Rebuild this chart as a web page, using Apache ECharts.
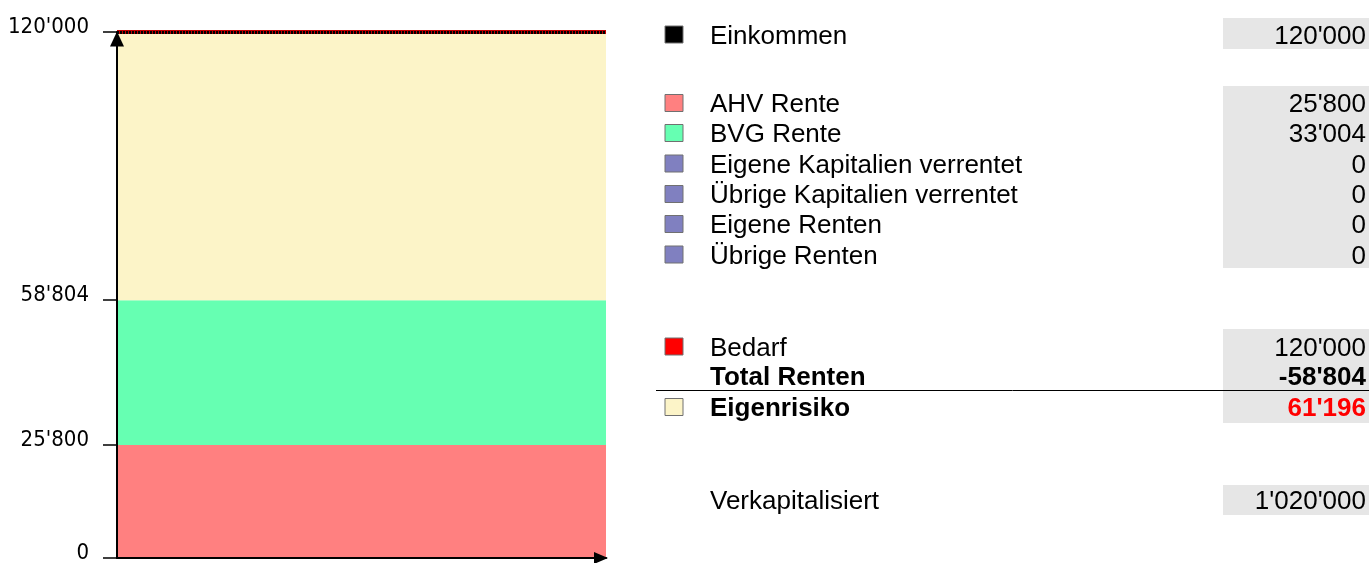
<!DOCTYPE html>
<html>
<head>
<meta charset="utf-8">
<script src="https://cdn.jsdelivr.net/npm/echarts@6/dist/echarts.min.js"></script>
<style>
  html, body { margin: 0; padding: 0; background: #fff; }
  #main { width: 1369px; height: 563px; }
</style>
</head>
<body>
<div id="main"></div>
<script>
// values
const einkommen = 120000;
const bedarf = 120000;
const stackNames = ['AHV Rente', 'BVG Rente', 'Eigene Kapitalien verrentet', 'Übrige Kapitalien verrentet', 'Eigene Renten', 'Übrige Renten'];
const stackValues = [25800, 33004, 0, 0, 0, 0];
const stackColors = ['#FF8080', '#66FFB2', '#8080C0', '#8080C0', '#8080C0', '#8080C0'];
const eigenrisiko = 61196;
const totalRenten = -58804;
const verkapitalisiert = 1020000;
const tickValues = [0, 25800, 58804, 120000];

// table rows: label, value, square colour, bold
const tableRows = [
    ['Einkommen', einkommen, '#000000', false],
    ...stackNames.map((n, i) => [n, stackValues[i], stackColors[i], false]),
    ['Bedarf', bedarf, '#FF0000', false],
    ['Total Renten', totalRenten, null, true],
    ['Eigenrisiko', eigenrisiko, '#FCF4C8', true],
    ['Verkapitalisiert', verkapitalisiert, null, false]
];
// vertical position of each table row (layout only)
const rowY = [34.5, 103, 133, 163.5, 194, 224, 254.5, 346.5, 376, 407, 500];
// grey value boxes [top, bottom]
const boxes = [[18, 49], [86, 268], [329, 423], [485, 515]];

function fmt(v) {
    const s = Math.abs(v).toString().replace(/\B(?=(\d{3})+(?!\d))/g, "'");
    return (v < 0 ? '-' : '') + s;
}

var chartDom = document.getElementById('main');
var myChart = echarts.init(chartDom);

// stacked bars
let series = [];
for (let i = 0; i < stackNames.length; i++) {
    series.push({
        name: stackNames[i],
        type: 'bar',
        stack: 'r',
        barCategoryGap: 0,
        barWidth: '100%',
        itemStyle: { color: stackColors[i] },
        data: [stackValues[i]]
    });
}
series.push({
    name: 'Eigenrisiko',
    type: 'bar',
    stack: 'r',
    barWidth: '100%',
    itemStyle: { color: '#FCF4C8' },
    data: [eigenrisiko]
});
// Bedarf and Einkommen lines at the top
series.push({
    name: 'Bedarf',
    type: 'line',
    data: [],
    markLine: {
        silent: true, symbol: 'none', label: { show: false },
        lineStyle: { color: '#C00000', width: 4, type: 'solid' },
        data: [{ yAxis: bedarf }]
    }
});
series.push({
    name: 'Einkommen',
    type: 'line',
    data: [],
    markLine: {
        silent: true, symbol: 'none', label: { show: false },
        lineStyle: { color: '#000000', width: 3, type: [2, 1] },
        data: [{ yAxis: einkommen }]
    }
});

// table on the right
let graphics = [];
boxes.forEach(b => {
    graphics.push({ type: 'rect', shape: { x: 1223, y: b[0], width: 146, height: b[1] - b[0] }, style: { fill: '#E6E6E6' }, z: 1 });
});
tableRows.forEach((r, i) => {
    const y = rowY[i] + 2;
    if (r[2]) {
        graphics.push({ type: 'rect', shape: { x: 665, y: rowY[i] - 8.5, width: 18, height: 17 }, style: { fill: r[2], stroke: '#707070', lineWidth: 1 }, z: 2 });
    }
    const font = (r[3] ? 'bold ' : '') + '26px "Liberation Sans", Arial, sans-serif';
    graphics.push({ type: 'text', x: 710, y: y, style: { text: r[0], font: font, fill: '#000', textVerticalAlign: 'middle' }, z: 2 });
    graphics.push({ type: 'text', x: 1366, y: y, style: { text: fmt(r[1]), font: font, fill: r[0] === 'Eigenrisiko' ? '#FF0000' : '#000', textAlign: 'right', textVerticalAlign: 'middle' }, z: 2 });
});
graphics.push({ type: 'line', shape: { x1: 656, y1: 390.5, x2: 1369, y2: 390.5 }, style: { stroke: '#000', lineWidth: 1 }, z: 2 });

var option = {
    animation: false,
    grid: { left: 117, top: 32, right: 763, bottom: 5, containLabel: false, outerBoundsMode: 'none' },
    xAxis: {
        type: 'category',
        data: [''],
        z: 5,
        axisLine: { lineStyle: { color: '#000', width: 2 }, symbol: ['none', 'triangle'], symbolSize: [12, 14], symbolOffset: [0, -5] },
        axisTick: { show: false },
        axisLabel: { show: false }
    },
    yAxis: {
        type: 'value',
        min: 0,
        max: 120000,
        z: 5,
        splitLine: { show: false },
        axisLine: { show: true, lineStyle: { color: '#000', width: 2 }, symbol: ['none', 'triangle'], symbolSize: [14, 15], symbolOffset: [0, -7] },
        axisTick: { show: true, length: 14, customValues: tickValues, lineStyle: { color: '#000', width: 1.5 } },
        axisLabel: {
            customValues: tickValues,
            formatter: v => fmt(v),
            margin: 28,
            color: '#000',
            fontFamily: '"DejaVu Sans Condensed", "DejaVu Sans", sans-serif',
            fontSize: 22,
            verticalAlign: 'bottom',
            lineHeight: 10
        }
    },
    series: series,
    graphic: graphics
};
option && myChart.setOption(option);
</script>
</body>
</html>
